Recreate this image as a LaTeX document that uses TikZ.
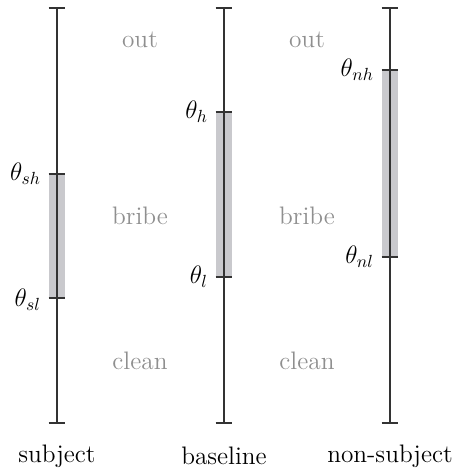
\documentclass[tikz,border=0pt]{standalone}
\usepackage{tikz}
\usetikzlibrary{positioning}
\definecolor{axisgray}{HTML}{333333}
\definecolor{bandgray}{HTML}{C9C9CD}
\definecolor{zonegray}{HTML}{8F8F8F}

\begin{document}
\begin{tikzpicture}[x=0.02cm, y=-0.02cm,
  axis/.style={draw=axisgray, line width=0.8pt},
  band/.style={fill=bandgray},
  zone/.style={text=zonegray, font=\Large},
  thr/.style={font=\Large, anchor=east, inner sep=0pt},
  group/.style={font=\Large, inner sep=0pt}
]
\useasboundingbox (0,0) rectangle (451,471);

% axes: top and bottom ends
\coordinate (s-top) at (57,8);   \coordinate (s-bot) at (57,423);
\coordinate (b-top) at (224,8);  \coordinate (b-bot) at (224,423);
\coordinate (n-top) at (390,8);  \coordinate (n-bot) at (390,423);

% threshold points
\coordinate (s-hi) at (57,174);  \coordinate (s-lo) at (57,298);
\coordinate (b-hi) at (224,112); \coordinate (b-lo) at (224,277);
\coordinate (n-hi) at (390,70);  \coordinate (n-lo) at (390,257);

% bribe bands
\fill[band] ([xshift=-4.8pt]s-hi) rectangle ([xshift=4.8pt]s-lo);
\fill[band] ([xshift=-4.8pt]b-hi) rectangle ([xshift=4.8pt]b-lo);
\fill[band] ([xshift=-4.8pt]n-hi) rectangle ([xshift=4.8pt]n-lo);

\foreach \p in {s-top,s-bot,b-top,b-bot,n-top,n-bot,s-hi,s-lo,b-hi,b-lo,n-hi,n-lo}
  \draw[axis] ([xshift=-4.8pt]\p) -- ([xshift=4.8pt]\p);

\draw[axis] (s-top) -- (s-bot);
\draw[axis] (b-top) -- (b-bot);
\draw[axis] (n-top) -- (n-bot);

% threshold labels
\node[thr] (ths-hi) at ([xshift=-9pt]s-hi) {$\theta_{sh}$};
\node[thr] (ths-lo) at ([xshift=-9pt,yshift=-1pt]s-lo) {$\theta_{sl}$};
\node[thr] (thb-hi) at ([xshift=-9pt]b-hi) {$\theta_{h}$};
\node[thr] (thb-lo) at ([xshift=-9pt]b-lo) {$\theta_{l}$};
\node[thr] (thn-hi) at ([xshift=-9pt]n-hi) {$\theta_{nh}$};
\node[thr] (thn-lo) at ([xshift=-9pt]n-lo) {$\theta_{nl}$};

% zones
\node[zone] (out1) at (140,40) {out};
\node[zone] (bribe1) at (140,216) {bribe};
\node[zone] (clean1) at (140,361) {clean};
\node[zone] (out2) at (307,40) {out};
\node[zone] (bribe2) at (307,216) {bribe};
\node[zone] (clean2) at (307,361) {clean};

% groups
\node[group] (subj) at (57,456) {subject};
\node[group] (base) at (224,456) {baseline};
\node[group] (nonsubj) at (390,456) {non-subject};

\end{tikzpicture}
\end{document}
